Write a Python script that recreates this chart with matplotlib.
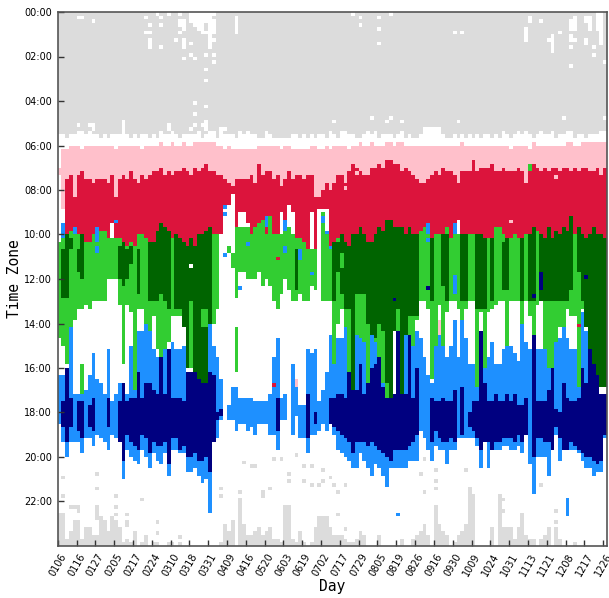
import numpy as np
import matplotlib
matplotlib.use('Agg')
import matplotlib.pyplot as plt
from matplotlib.colors import ListedColormap, BoundaryNorm

day_labels = ['0106','0116','0127','0205','0217','0224','0310','0318','0331','0409',
              '0416','0520','0603','0619','0702','0717','0729','0805','0819','0826',
              '0916','0930','1009','1024','1031','1113','1121','1208','1217','1226']
time_labels = ['00:00','02:00','04:00','06:00','08:00','10:00','12:00','14:00','16:00','18:00','20:00','22:00']
colours = ['white','#DCDCDC','#FFC0CB','#DC143C','#32CD32','#006400','#1E90FF','#000080']

# one value per day column, in 10 minute rows counted from midnight
gray_end = [33,33,34,33,33,32,32,33,32,33, 33,34,33,34,33,33,33,31,33,34,
            33,34,33,33,34,33,34,32,33,33, 32,33,34,33,33,33,33,32,34,33,
            32,32,34,33,33,33,33,34,32,33, 32,33,33,34,34,32,33,34,34,34,
            34,34,33,33,34,33,34,33,34,33, 33,34,32,33,34,32,32,33,33,34,
            34,33,32,33,32,34,33,33,33,34, 33,32,34,33,34,34,33,31,31,31,
            31,31,33,34,34,33,34,33,34,33, 34,33,34,33,33,34,33,34,32,33,
            34,33,32,33,32,33,34,33,32,33, 33,32,34,33,33,32,32,34,33,33,
            34,33,33,33,32,32]
pink_start = [42,37,37,36,36,36,37,36,36,36, 36,36,36,36,36,37,36,36,36,36,
              36,36,37,36,36,36,36,35,36,36, 35,36,36,35,36,36,35,35,35,35,
              35,35,36,36,37,36,37,37,37,37, 37,37,37,36,36,36,36,36,36,37,
              36,36,37,37,37,37,37,36,36,37, 37,36,37,36,36,36,36,37,36,36,
              35,36,36,35,36,36,36,35,35,36, 35,35,36,36,36,36,36,36,36,36,
              36,36,36,36,36,36,36,35,36,36, 36,36,36,36,36,36,36,36,36,36,
              37,36,36,36,36,37,35,36,36,36, 36,36,36,36,36,35,35,36,36,35,
              35,35,35,35,35,35]
red_start = [44,53,45,44,50,44,43,45,45,46, 45,45,45,46,44,50,45,44,45,43,
             45,46,44,45,44,43,43,42,44,43, 44,43,43,42,43,44,42,43,42,41,
             43,43,44,44,45,46,47,45,45,45, 45,44,46,41,44,43,43,45,44,47,
             45,43,45,44,44,45,44,44,50,50, 48,46,47,46,44,44,46,43,41,42,
             43,44,44,42,42,41,42,40,40,41, 41,43,42,43,44,45,46,46,45,44,
             43,44,42,43,43,44,46,43,43,43, 40,43,42,42,42,41,43,43,42,43,
             43,43,42,43,46,41,41,42,43,42, 43,42,42,43,42,42,43,42,43,42,
             42,43,43,42,44,42]
red_end = [44,53,60,59,60,60,61,62,62,60, 60,59,59,61,57,61,61,62,63,62,
           63,60,60,61,62,62,59,57,58,59, 61,60,61,62,63,61,63,60,60,59,
           58,60,60,60,53,52,49,58,54,54, 57,60,58,57,56,60,55,60,60,54,
           58,52,54,61,61,62,64,54,64,53, 53,53,64,62,61,60,62,63,60,60,
           58,60,62,62,60,58,59,56,56,58, 58,58,60,58,60,60,59,58,57,61,
           60,60,60,58,61,58,56,60,60,60, 60,60,60,61,61,61,58,58,60,61,
           61,60,61,61,60,60,58,59,60,61, 58,61,59,60,58,59,55,60,58,60,
           61,60,58,60,60,61]
gap_cols = [0,1,14,44,45,46,48,49,50,59,60,61,62,67,69,70,71,106]
gap_green = [62,61,61,60,62,65,58,58,58,60,59,58,60,64,78,54,59,60]
green_end = [88,90,95,95,83,80,80,79,80,78, 78,78,78,72,72,72,79,95,79,81,
             102,80,80,84,86,82,91,103,91,89, 82,82,82,84,96,96,104,100,104,100,
             104,84,80,60,60,62,65,77,70,70, 72,72,72,70,74,72,74,78,80,76,
             72,75,78,78,76,78,78,74,75,53, 78,78,78,96,84,80,85,97,102,92,
             97,90,100,88,93,100,100,104,104,86, 103,103,95,103,90,83,78,78,80,99,
             90,79,94,81,78,78,80,90,80,78, 78,101,81,96,81,80,79,78,78,90,
             78,78,78,84,78,82,87,79,78,91, 96,97,90,85,85,80,82,82,101,80,
             85,91,98,102,101,101]
dark_start = [0,64,60,61,0,64,60,0,0,0, 0,0,0,0,0,0,63,62,64,63,
              0,64,0,0,62,62,59,57,58,59, 0,60,61,62,63,61,63,60,60,59,
              58,0,0,0,0,0,0,0,0,0, 0,0,0,0,0,0,0,0,0,0,
              0,0,0,64,0,0,0,0,0,0, 0,0,0,62,62,60,62,63,60,60,
              58,60,62,62,60,58,59,56,56,58, 58,58,60,58,60,60,0,0,0,61,
              0,0,60,60,0,0,0,60,60,0, 0,60,60,61,0,61,0,0,62,61,
              0,0,0,61,0,60,58,0,60,61, 58,61,59,60,58,59,55,0,58,60,
              61,60,58,60,60,61]
dark_end = [0,77,77,64,0,70,72,0,0,0, 0,0,0,0,0,0,72,74,72,68,
            0,76,0,0,78,78,78,76,78,80, 0,80,80,85,96,96,104,100,104,100,
            104,0,0,0,0,0,0,0,0,0, 0,0,0,0,0,0,0,0,0,0,
            0,0,0,75,0,0,0,0,0,0, 0,0,0,78,70,76,80,80,102,76,
            76,76,84,88,88,84,86,100,104,86, 80,103,103,82,82,82,0,0,0,78,
            0,0,74,78,0,0,0,78,78,0, 0,80,80,80,0,78,0,0,75,75,
            0,0,0,78,0,78,78,0,78,78, 78,78,78,78,78,78,75,0,70,78,
            85,91,98,102,101,101]
blue_start = [98,98,96,85,103,103,103,102,98,92, 99,100,103,91,105,103,100,100,103,90,
              102,86,86,84,86,91,93,93,91,91, 89,91,91,90,97,97,104,100,104,100,
              84,90,93,99,0,106,101,101,104,104, 104,104,105,105,105,105,103,93,88,104,
              103,0,95,101,106,106,91,92,91,105, 102,97,87,95,88,88,85,97,102,87,
              88,89,100,87,89,93,100,104,104,103, 86,103,87,103,90,86,88,93,98,100,
              90,87,90,93,90,83,93,83,88,95, 95,101,95,96,93,89,95,95,91,90,
              90,92,94,84,89,91,87,91,91,91, 96,97,89,88,85,88,91,91,101,81,
              86,91,95,98,103,103]
blue_end = [111,116,120,116,116,116,119,115,115,117, 114,115,116,118,114,115,116,126,118,120,
            121,122,118,120,123,119,121,122,119,125, 118,118,119,119,124,124,123,125,127,126,
            135,116,115,110,0,110,110,113,111,111, 113,112,114,111,111,111,114,114,118,110,
            110,0,114,109,115,115,119,114,114,113, 111,113,111,114,118,119,120,121,123,123,
            119,121,123,125,122,123,125,128,123,123, 123,123,123,121,121,121,113,115,118,121,
            117,118,118,122,118,118,115,115,115,115, 115,117,123,116,123,118,118,118,117,117,
            118,118,117,119,114,122,130,120,120,120, 125,116,114,121,118,116,118,118,119,121,
            123,123,125,124,124,115]
navy_start = [0,105,96,104,0,105,105,0,106,104, 0,0,0,104,0,0,105,100,105,104,
              104,97,104,100,100,102,103,93,103,91, 104,104,104,105,97,97,97,99,100,100,
              97,98,108,107,0,0,0,0,0,0, 0,0,0,0,0,0,0,0,104,0,
              0,0,0,0,0,0,103,0,108,0, 0,0,104,104,103,103,104,97,102,102,
              95,103,100,96,95,93,101,104,104,103, 86,103,103,87,104,96,0,0,0,104,
              105,105,104,105,105,102,0,101,0,108, 105,105,86,100,105,105,103,105,105,103,
              105,103,106,106,104,0,87,105,105,105, 102,96,107,108,100,104,105,105,104,96,
              100,91,95,98,103,103]
navy_end = [0,112,116,112,0,113,115,0,112,113, 0,0,0,112,0,0,116,121,114,116,
            117,118,114,115,119,116,117,117,116,122, 115,115,118,117,120,120,119,121,121,120,
            124,116,110,109,0,0,0,0,0,0, 0,0,0,0,0,0,0,0,113,0,
            0,0,0,0,0,0,115,0,111,0, 0,0,111,112,113,114,115,116,119,116,
            116,116,117,116,117,118,119,120,121,118, 118,118,118,117,116,114,0,0,0,116,
            113,115,116,116,115,116,0,114,0,112, 113,115,118,116,116,118,116,116,115,115,
            115,116,114,116,114,0,120,115,115,116, 116,118,112,115,118,118,116,117,118,119,
            120,120,121,122,121,114]
gray_low = [135,135,142,140,137,137,142,139,139,141, 141,136,137,140,136,137,139,143,142,143,
            140,144,143,141,144,143,143,144,144,143, 143,144,143,144,144,144,144,144,144,144,
            144,144,144,143,138,140,137,144,133,138, 141,141,140,139,141,140,139,142,142,143,
            133,133,142,143,140,143,144,143,139,136, 136,136,139,141,141,141,142,143,143,142,
            140,141,144,144,144,141,144,144,144,144, 144,142,144,144,142,141,140,138,141,144,
            133,138,140,141,144,143,141,140,138,128, 130,144,144,144,144,139,144,130,139,139,
            139,142,139,135,141,142,142,144,142,141, 139,144,139,142,144,144,144,143,144,144,
            144,144,144,144,144,144]

# white cells in the night block
white_cols = [5,6,9,23,24,23,24,24,24,24,26,27,27,27,29,31,32,32,33,32,33,33,32,33,33,33,35,33,35,36,
              35,36,37,38,39,35,36,37,38,39,35,36,37,38,39,36,37,38,37,38,38,39,40,40,40,40,40,40,40,40,40,40,
              41,41,41,41,41,41,39,41,41,39,39,36,39,36,47,47,47,47,47,
              17,17,17,5,8,9,9,29,29,36,38,39,39,39,35,43,43,44,
              78,80,80,85,85,85,88,105,107,125,125,124,124,124,124,128,130,131,131,131,131,131,133,
              136,136,136,137,137,137,137,136,136,137,136,136,
              140,140,140,141,141,141,141,143,143,143,143,143,144,144,144,144,144,144,144,144,144,142,142,145,140,140,
              73,83,87,88,91,106,134,145]
white_rows = [1,1,2,1,3,5,5,7,8,9,0,1,3,9,0,7,0,2,2,3,3,4,5,7,8,9,8,12,11,12,
              0,0,0,0,0,1,1,1,1,1,2,2,2,2,2,3,3,3,4,4,5,5,0,1,2,3,4,5,6,7,8,9,
              0,2,3,4,5,7,11,11,13,15,18,24,25,27,1,2,3,4,5,
              29,30,31,30,30,30,31,30,31,30,30,29,30,31,31,31,32,31,
              0,1,3,1,4,8,0,5,5,1,2,4,5,6,7,2,7,6,7,8,9,10,5,
              2,3,4,1,2,3,4,6,7,7,9,14,
              1,2,7,1,2,3,4,0,1,2,3,4,0,1,2,3,4,5,6,7,8,9,11,13,8,7,
              29,28,29,28,29,29,28,28]

# loose gray cells in the evening
gray_cols = [1,1,10,10,15,15,15,18,18,18,22,26,26,32,10,10,10,10,3,4,5,5,
             43,43,48,48,48,48,49,51,52,54,54,56,57,59,61,61,63,
             65,67,70,65,67,69,70,72,73,74,76,74,76,96,97,97,100,100,100,108,118,118,128,132,132]
gray_rows = [125,130,124,128,130,133,135,135,137,138,131,137,140,141,133,134,135,136,133,133,133,134,
             128,130,129,131,132,133,121,122,122,129,130,128,120,120,124,126,119,
             122,122,123,126,127,127,126,125,127,129,127,135,139,124,120,129,123,126,128,123,131,134,127,134,137]

# short runs of one colour that do not fit the layers: column, first row, end row, colour index
patch_col =   [1,4,10,10,15,44,44,44,45,46,48,50,55,60,60,64,105,105,98,98,70,71,72,67,58,57,63,138,101,35,125,
               79,76,72,120,132,128,140,126,89,98,75,35,38,39,135,90,47,35,6]
patch_start = [57,58,58,63,56,52,54,65,63,65,74,62,55,56,63,64,57,71,57,61,55,59,63,70,66,100,99,84,83,68,41,
               43,47,47,56,44,70,71,76,77,74,65,78,80,80,131,135,85,91,95]
patch_end =   [61,60,62,65,57,53,55,66,65,69,75,63,58,59,65,67,60,76,60,62,57,60,64,71,67,101,101,85,87,69,43,
               44,48,48,57,45,75,72,77,78,75,69,91,85,85,136,136,97,96,103]
patch_kind =  [6,6,6,6,6,6,6,6,4,4,6,6,6,6,6,6,6,6,6,6,6,6,6,6,3,3,2,3,2,0,4,
               2,2,2,2,2,7,7,7,7,7,4,4,4,4,6,6,4,4,4]

n_days = len(red_start)
n_rows = 144
green_start = np.array(red_end)
green_start[gap_cols] = gap_green

grid = np.zeros((n_rows, n_days), dtype=int)
for i in range(n_days):
    grid[:gray_end[i], i] = 1
    grid[pink_start[i]:red_start[i], i] = 2
    grid[red_start[i]:red_end[i], i] = 3
    grid[green_start[i]:green_end[i], i] = 4
    if dark_start[i] > 0:
        grid[dark_start[i]:dark_end[i], i] = 5
    if blue_start[i] > 0:
        grid[blue_start[i]:blue_end[i], i] = 6
    if navy_start[i] > 0:
        grid[navy_start[i]:navy_end[i], i] = 7
    grid[gray_low[i]:, i] = 1

grid[white_rows, white_cols] = 0
grid[gray_rows, gray_cols] = 1
for c, a, b, k in zip(patch_col, patch_start, patch_end, patch_kind):
    grid[a:b, c] = k

fig = plt.figure(figsize=(6.09, 5.98), dpi=100)
ax = fig.add_axes([57.7/609, 1-546/598, (607-57.7)/609, (546-12)/598])
cmap = ListedColormap(colours)
norm = BoundaryNorm(np.arange(-0.5, 8.5), cmap.N)
ax.pcolormesh(np.arange(n_days+1), np.arange(n_rows+1), grid, cmap=cmap, norm=norm)
ax.set_xlim(0, n_days)
ax.set_ylim(n_rows, 0)

ax.set_xticks(np.arange(len(day_labels))*5)
ax.set_xticklabels(day_labels, rotation=60, fontsize=7)
ax.set_yticks(np.arange(len(time_labels))*12)
ax.set_yticklabels(time_labels, fontsize=7)
ax.tick_params(direction='in', length=4, width=1, color='#333333', pad=4)
for s in ax.spines.values():
    s.set_color('#555555')
    s.set_linewidth(1.2)

ax.set_xlabel('Day', fontsize=10.5, family='DejaVu Sans Mono', va='center')
ax.xaxis.set_label_coords(0.5, -(587-546)/534)
ax.set_ylabel('Time Zone', fontsize=10.5, family='DejaVu Sans Mono', va='center')
ax.yaxis.set_label_coords((14-57.7)/549.3, 0.5)

fig.savefig('out.png', dpi=100)
